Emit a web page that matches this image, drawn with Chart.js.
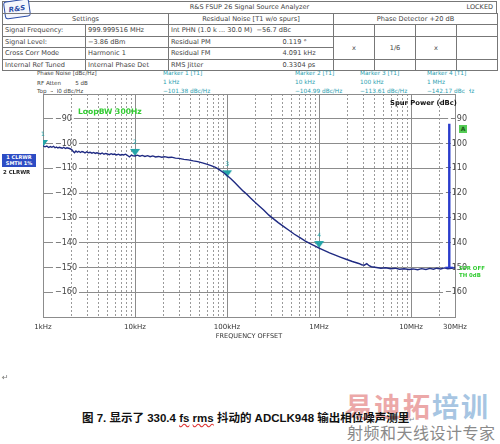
<!DOCTYPE html>
<html>
<head>
<meta charset="utf-8">
<script src="https://cdn.jsdelivr.net/npm/chart.js"></script>
<style>
body { margin:0; width:500px; height:444px; background:#fff; position:relative; overflow:hidden; font-family:"DejaVu Sans", sans-serif; color:#444; }
.abs { position:absolute; white-space:nowrap; }
#titlebar { left:2px; top:1px; width:493px; height:11px; border:1px solid #777; font-size:6.5px; line-height:11px; }
#logo { left:4px; top:0px; width:24px; height:16px; border:1px solid #2b4da8; border-radius:3px; background:#f4f6fc; color:#2b4da8; font:italic bold 7px "DejaVu Sans"; line-height:16px; text-align:center; transform:rotate(-8deg); }
#hdr { left:2px; top:13px; border-collapse:collapse; table-layout:fixed; font-size:6.6px; }
#hdr td { border:1px solid #777; padding:0 2px; height:10.5px; line-height:10px; overflow:hidden; }
#hdr tr.h td { height:8px; text-align:center; }
.c { text-align:center; }
.info { font-size:5.6px; line-height:7px; color:#444; }
.mk { font-size:5.8px; line-height:9px; color:#2aa0b0; }
#cv { position:absolute; left:0; top:70px; }
</style>
</head>
<body>
<div id="titlebar" class="abs"><span class="abs" style="left:0;width:493px;text-align:center">R&amp;S FSUP 26 Signal Source Analyzer</span><span class="abs" style="right:3px">LOCKED</span></div>
<div id="logo" class="abs">R&amp;S</div>
<table id="hdr" class="abs">
<colgroup><col style="width:83px"><col style="width:83px"><col style="width:82px"><col style="width:83px"><col style="width:41px"><col style="width:41px"><col style="width:41px"><col style="width:41px"></colgroup>
<tr class="h"><td colspan="2">Settings</td><td colspan="2">Residual Noise [T1 w/o spurs]</td><td colspan="4">Phase Detector +20 dB</td></tr>
<tr><td>Signal Frequency:</td><td>999.999516 MHz</td><td colspan="2">Int PHN (1.0 k ... 30.0 M) &nbsp;&minus;56.7 dBc</td><td></td><td></td><td></td><td></td></tr>
<tr><td>Signal Level:</td><td>&minus;3.86 dBm</td><td style="border-right:none">Residual PM</td><td style="border-left:none;padding-left:32px">0.119 &deg;</td><td rowspan="2" class="c">x</td><td rowspan="2" class="c">1/6</td><td rowspan="2" class="c">x</td><td rowspan="2"></td></tr>
<tr><td>Cross Corr Mode</td><td>Harmonic 1</td><td style="border-right:none">Residual FM</td><td style="border-left:none;padding-left:32px">4.091 kHz</td></tr>
<tr><td>Internal Ref Tuned</td><td>Internal Phase Det</td><td style="border-right:none">RMS Jitter</td><td style="border-left:none;padding-left:32px">0.3304 ps</td><td></td><td></td><td></td><td></td></tr>
</table>

<div class="abs info" style="left:37px;top:70px">Phase Noise [dBc/Hz]</div>
<div class="abs info" style="left:37px;top:80px">RF Atten &nbsp;&nbsp;&nbsp;&nbsp;&nbsp;&nbsp;&nbsp;5 dB</div>
<div class="abs info" style="left:37px;top:88px">Top &nbsp;&minus;80 dBc/Hz</div>
<div class="abs mk" style="left:163px;top:69px">Marker 1 [T1]<br>1 kHz<br>&minus;101.38 dBc/Hz</div>
<div class="abs mk" style="left:295px;top:69px">Marker 2 [T1]<br>10 kHz<br>&minus;104.99 dBc/Hz</div>
<div class="abs mk" style="left:360px;top:69px">Marker 3 [T1]<br>100 kHz<br>&minus;113.61 dBc/Hz</div>
<div class="abs mk" style="left:427px;top:69px">Marker 4 [T1]<br>1 MHz<br>&minus;142.17 dBc/Hz</div>

<canvas id="cv" width="500" height="280"></canvas>

<div class="abs" style="left:78px;top:107px;font:bold 7.6px 'DejaVu Sans';color:#33cc33">LoopBW 300Hz</div>
<div class="abs" style="left:390px;top:99px;font:bold 6.8px 'DejaVu Sans';color:#111">Spur Power (dBc)</div>
<div class="abs" style="left:2px;top:154px;width:34px;background:#2d4cc4;color:#fff;font:bold 5px 'DejaVu Sans';line-height:5.5px;text-align:center;padding:1px 0">1 CLRWR<br>SMTH 1%</div>
<div class="abs" style="left:3px;top:169px;font:bold 5.4px 'DejaVu Sans';color:#222">2 CLRWR</div>
<div class="abs" style="left:459px;top:125px;width:8px;height:8px;background:#55cc55;color:#1a5a1a;font:bold 6px 'DejaVu Sans';line-height:8px;text-align:center">A</div>
<div class="abs" style="left:459px;top:265px;font:bold 5.4px 'DejaVu Sans';color:#33cc33;line-height:6.5px">SPR OFF<br>TH 0dB</div>

<div class="abs" style="left:2px;top:373px;font-size:8px;color:#777">&#8629;</div>
<div class="abs" style="left:345px;top:386px;font:bold 27px 'Noto Sans CJK SC';letter-spacing:2px;opacity:0.6"><span style="color:#e07070">易迪拓</span><span style="color:#6d9fd0">培训</span></div>
<div class="abs" style="left:347px;top:420px;font:16px 'Noto Sans CJK SC';color:#8a8a8a;letter-spacing:0.5px">射频和天线设计专家</div>
<div class="abs" style="left:82px;top:409px;font:bold 11.5px 'Liberation Sans','Noto Sans CJK SC';color:#111">图 7. 显示了 330.4 <span style="text-decoration:underline wavy #d33">fs</span> <span style="text-decoration:underline wavy #d33">rms</span> 抖动的 ADCLK948 输出相位噪声测里<span style="font-weight:normal;font-size:7px;color:#888">&#8629;</span></div>

<script>
// phase noise trace
const traceFreq = [1000,1050,1100,1150,1200,1250,1300,1350,1400,1450,1500,1560,1620,1680,1750,1820,1900,1970,2050,2120,
  2200,2280,2360,2450,2550,2650,2750,2860,2980,3100,3250,3400,3550,3700,3850,4000,4200,4400,4600,4800,
  5000,5250,5500,5750,6000,6300,6600,6900,7200,7500,7900,8300,8700,9100,9500,10000,10600,11300,12000,12800,
  13700,14600,15600,16700,18000,19500,21000,23000,25000,27500,30000,34000,38000,43000,48000,54000,60000,67000,75000,83000,
  91000,100000,110000,122000,135000,150000,165000,180000,200000,225000,250000,285000,320000,360000,410000,470000,540000,620000,710000,820000,
  930000,1000000,1150000,1300000,1500000,1700000,2000000,2300000,2700000,2900000,3100000,3300000,3500000,3700000,4200000,4700000,5300000,6000000,6700000,7500000,
  8400000,9500000,10500000,11800000,13000000,14500000,16000000,17500000,19000000,21000000,23000000,25000000,27500000,30000000];
const traceLevel = [-100.9,-101.3,-101.0,-101.6,-101.2,-101.5,-101.1,-101.7,-101.4,-101.8,-101.5,-101.7,-101.9,-101.5,-102.0,-101.7,-101.9,-102.1,-102.4,-103.1,
  -103.7,-103.0,-103.5,-103.1,-103.6,-103.2,-103.4,-103.8,-103.3,-103.7,-103.5,-103.9,-103.6,-104.0,-103.7,-103.9,-104.2,-103.8,-104.3,-104.0,
  -104.2,-104.5,-104.1,-104.4,-104.2,-104.6,-104.3,-104.7,-104.4,-104.6,-104.3,-104.8,-105.4,-104.7,-104.9,-105.0,-104.7,-105.1,-104.8,-105.2,
  -104.9,-105.3,-105.0,-105.4,-105.2,-105.5,-105.3,-105.6,-105.5,-105.9,-106.0,-106.4,-106.6,-107.0,-107.3,-107.8,-108.3,-108.9,-109.6,-110.6,
  -111.7,-112.9,-114.2,-115.8,-117.5,-119.2,-120.6,-122.0,-123.6,-125.3,-126.8,-128.9,-130.4,-131.9,-133.4,-135.0,-136.6,-138.0,-139.4,-140.6,
  -141.6,-142.2,-143.2,-144.1,-145.0,-145.8,-146.8,-147.6,-148.4,-148.9,-149.1,-148.5,-149.3,-149.7,-150.0,-150.3,-150.1,-150.5,-150.3,-150.7,
  -150.5,-150.8,-150.6,-150.9,-150.5,-150.8,-150.4,-150.7,-150.3,-150.6,-150.2,-150.5,-150.3,-150.1];

// markers T1
const markerFreq = [1000, 10000, 100000, 1000000];
const markerLevel = [-101.38, -104.99, -113.61, -142.17];

// spur power bar
const spurFreq = [26000000, 26000000];
const spurLevel = [-92, -150];

const xTickValues = [1000, 10000, 100000, 1000000, 10000000, 30000000];
const xTickLabels = ['1kHz', '10kHz', '100kHz', '1MHz', '10MHz', '30MHz'];
const yTickValues = [-170,-160,-150,-140,-130,-120,-110,-100,-90,-80];
const yTickLabels = ['', '\u2212160', '\u2212150', '\u2212140', '\u2212130', '\u2212120', '\u2212110', '\u2212100', '\u221290', ''];

// marker symbol: triangle sitting above the point, tip on the trace
const tri = document.createElement('canvas');
tri.width = 12; tri.height = 20;
const tc = tri.getContext('2d');
tc.fillStyle = '#24a4a8';
tc.beginPath(); tc.moveTo(1, 3); tc.lineTo(11, 3); tc.lineTo(6, 10); tc.closePath(); tc.fill();

const gridPlugin = {
    id: 'minorGrid',
    beforeDatasetsDraw: function(chart) {
        var ctx = chart.ctx, a = chart.chartArea, x = chart.scales.x;
        ctx.save();
        ctx.strokeStyle = '#9a9a9a';
        ctx.lineWidth = 1;
        ctx.setLineDash([2, 2]);
        for (var d = 1000; d <= 10000000; d *= 10) {
            for (var m = 2; m <= 9; m++) {
                var f = m * d;
                if (f >= 30000000) break;
                var px = Math.round(x.getPixelForValue(f)) + 0.5;
                ctx.beginPath(); ctx.moveTo(px, a.top); ctx.lineTo(px, a.bottom); ctx.stroke();
            }
        }
        ctx.setLineDash([]);
        ctx.strokeStyle = '#8c8c8c';
        ctx.strokeRect(Math.round(a.left) + 0.5, Math.round(a.top) + 0.5, Math.round(a.right - a.left), Math.round(a.bottom - a.top));
        ctx.restore();
    },
    afterDatasetsDraw: function(chart) {
        var ctx = chart.ctx;
        var meta = chart.getDatasetMeta(1);
        ctx.save();
        ctx.fillStyle = '#24a4a8';
        ctx.font = '6px "DejaVu Sans"';
        ctx.textAlign = 'center';
        ctx.textBaseline = 'middle';
        meta.data.forEach(function(p, i) {
            ctx.fillText(String(i + 1), p.x, p.y - 13);
        });
        // small cross at the foot of the spur bar
        var s = chart.getDatasetMeta(2).data[1];
        ctx.strokeStyle = '#2a3ccc';
        ctx.lineWidth = 1.5;
        ctx.beginPath(); ctx.moveTo(s.x - 4, s.y); ctx.lineTo(s.x + 4, s.y); ctx.stroke();
        ctx.restore();
    }
};

document.addEventListener('DOMContentLoaded', function() {
    var ctx = document.getElementById('cv').getContext('2d');
    new Chart(ctx, {
        type: 'line',
        data: {
            datasets: [{
                data: traceFreq.map(function(f, i) { return { x: f, y: traceLevel[i] }; }),
                borderColor: '#1f2a82',
                borderWidth: 1.4,
                pointRadius: 0,
                tension: 0
            }, {
                data: markerFreq.map(function(f, i) { return { x: f, y: markerLevel[i] }; }),
                showLine: false,
                pointStyle: tri,
                pointRadius: 6
            }, {
                data: spurFreq.map(function(f, i) { return { x: f, y: spurLevel[i] }; }),
                borderColor: '#2a3ccc',
                borderWidth: 2.4,
                pointRadius: 0
            }]
        },
        options: {
            responsive: false,
            animation: false,
            layout: { padding: { left: 43, right: 45, top: 24, bottom: 0 } },
            plugins: {
                legend: { display: false },
                tooltip: { enabled: false }
            },
            scales: {
                x: {
                    type: 'logarithmic',
                    min: 1000,
                    max: 30000000,
                    afterBuildTicks: function(s) { s.ticks = xTickValues.map(function(v) { return { value: v }; }); },
                    afterFit: function(s) { s.height = 33; },
                    ticks: {
                        autoSkip: false,
                        maxRotation: 0,
                        padding: 6,
                        color: '#333',
                        font: { family: 'DejaVu Sans', size: 7 },
                        callback: function(v, i) { return xTickLabels[i]; }
                    },
                    grid: { color: '#8c8c8c', drawTicks: false },
                    border: { display: false },
                    title: { display: true, text: 'FREQUENCY OFFSET', color: '#333', font: { family: 'DejaVu Sans', size: 6.5 }, padding: { top: 0, bottom: 10 } }
                },
                y: {
                    min: -170,
                    max: -80,
                    position: 'left',
                    afterBuildTicks: function(s) { s.ticks = yTickValues.map(function(v) { return { value: v }; }); },
                    afterFit: function(s) { s.width = 0; },
                    ticks: {
                        mirror: true,
                        padding: 12,
                        color: '#444',
                        font: { family: 'DejaVu Sans', size: 8 },
                        showLabelBackdrop: true,
                        backdropColor: '#fff',
                        backdropPadding: 2,
                        callback: function(v, i) { return yTickLabels[i]; }
                    },
                    grid: { color: '#8c8c8c', drawTicks: false },
                    border: { display: false }
                },
                y2: {
                    min: -170,
                    max: -80,
                    position: 'right',
                    afterBuildTicks: function(s) { s.ticks = yTickValues.map(function(v) { return { value: v }; }); },
                    afterFit: function(s) { s.width = 0; },
                    ticks: {
                        mirror: true,
                        padding: 12,
                        color: '#444',
                        font: { family: 'DejaVu Sans', size: 8 },
                        showLabelBackdrop: true,
                        backdropColor: '#fff',
                        backdropPadding: 2,
                        callback: function(v, i) { return yTickLabels[i]; }
                    },
                    grid: { drawOnChartArea: false, drawTicks: false },
                    border: { display: false }
                }
            }
        },
        plugins: [gridPlugin]
    });
});
</script>
</body>
</html>
